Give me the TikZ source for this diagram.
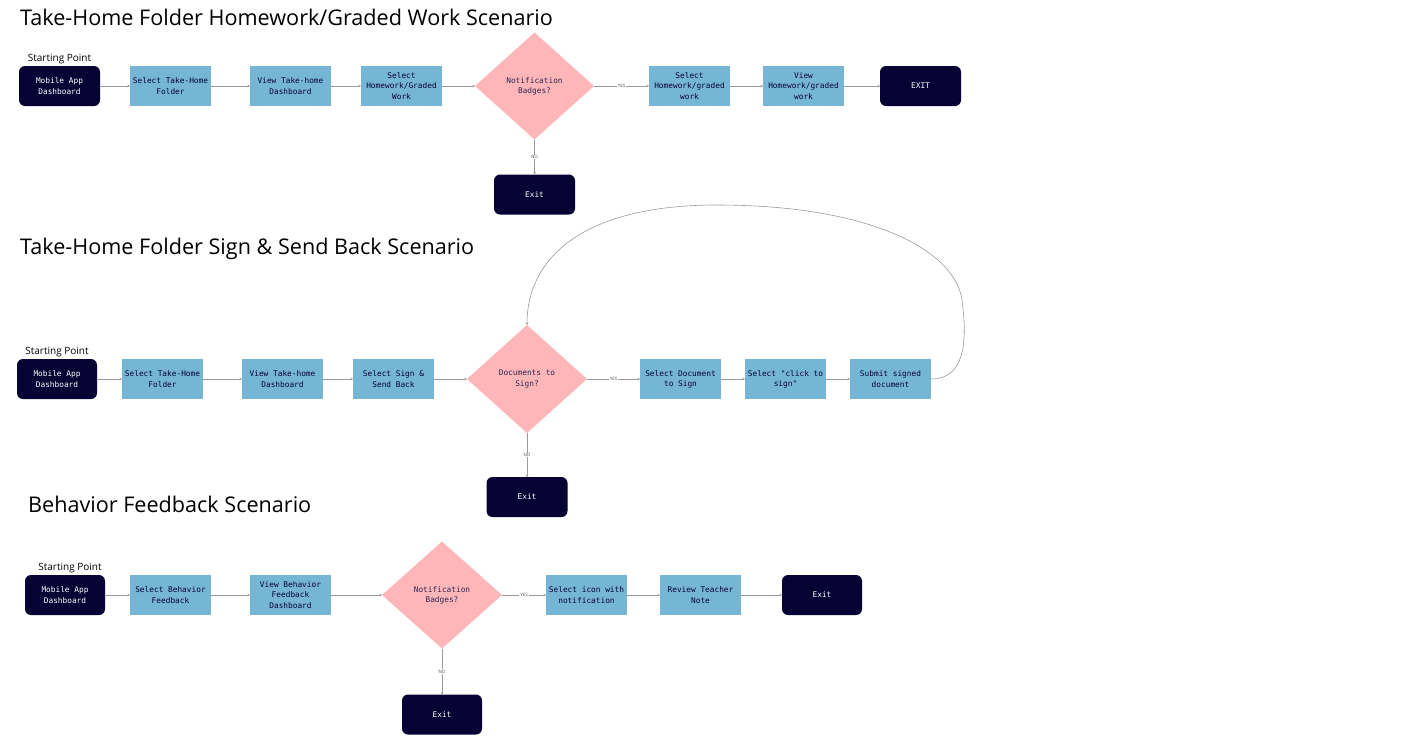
\documentclass[tikz,border=0pt]{standalone}
\usepackage{fontspec}
\setmainfont{Open Sans}
\newfontfamily\boxfont{DejaVu Sans Mono}
\usepackage{tikz}
\usetikzlibrary{shapes.geometric, arrows.meta, positioning}

\definecolor{navy}{HTML}{060233}
\definecolor{stepblue}{HTML}{76B6D5}
\definecolor{badgepink}{HTML}{FFB6B8}
\definecolor{linegray}{HTML}{9A9A9A}

\begin{document}
\begin{tikzpicture}[
    x=1pt, y=-1pt,
    title/.style={anchor=west, font=\fontsize{21.6}{26}\selectfont, inner sep=0pt},
    startlbl/.style={font=\fontsize{10}{12}\selectfont, inner sep=0pt},
    darkbox/.style={rectangle, rounded corners=6pt, fill=navy, text=white, font=\boxfont\fontsize{7.8}{10.2}\selectfont, align=center, minimum width=81pt, minimum height=40pt, inner sep=1pt, outer sep=0pt},
    stepbox/.style={rectangle, fill=stepblue, text=navy, font=\boxfont\fontsize{7.8}{10.2}\selectfont, align=center, minimum width=81pt, minimum height=40pt, inner sep=1pt, outer sep=0pt},
    decision/.style={diamond, fill=badgepink, text=navy!85, font=\boxfont\fontsize{7.8}{10.2}\selectfont, align=center, minimum width=119pt, minimum height=107pt, inner sep=0pt, outer sep=0pt},
    arrow/.style={-{Stealth[length=2.5pt, width=2.5pt]}, draw=linegray, line width=0.8pt},
    choice/.style={fill=white, font=\fontsize{4.5}{5}\selectfont, text=black!70, inner sep=0.8pt}
]
\useasboundingbox (0,0) rectangle (1402,748);

% Homework / graded work scenario
\node [title] (titleA) at (20,17) {Take-Home Folder Homework/Graded Work Scenario};
\node [darkbox] (mobA) at (59.5,86) {Mobile App\\Dashboard};
\node [startlbl, above=2pt of mobA] (startA) {Starting Point};
\node [stepbox, right=30pt of mobA] (selA) {Select Take-Home\\Folder};
\node [stepbox, right=39pt of selA] (viewA) {View Take-home\\Dashboard};
\node [stepbox, right=30pt of viewA] (hwA) {Select\\Homework/Graded\\Work};
\node [decision, right=33pt of hwA] (badgeA) {Notification\\Badges?};
\node [stepbox, right=55pt of badgeA] (pickA) {Select\\Homework/graded\\work};
\node [stepbox, right=33pt of pickA] (viewhwA) {View\\Homework/graded\\work};
\node [darkbox, right=36pt of viewhwA] (exitA) {EXIT};
\node [darkbox, below=35pt of badgeA] (noexitA) {Exit};

\draw [arrow] (mobA) -- (selA);
\draw [arrow] (selA) -- (viewA);
\draw [arrow] (viewA) -- (hwA);
\draw [arrow] (hwA) -- (badgeA);
\draw [arrow] (badgeA) -- node[choice] {YES} (pickA);
\draw [arrow] (pickA) -- (viewhwA);
\draw [arrow] (viewhwA) -- (exitA);
\draw [arrow] (badgeA) -- node[choice] {NO} (noexitA);

% Sign & send back scenario
\node [title] (titleB) at (20,249) {Take-Home Folder Sign \& Send Back Scenario};
\node [darkbox, minimum width=80pt] (mobB) at (57,379) {Mobile App\\Dashboard};
\node [startlbl, above=2pt of mobB] (startB) {Starting Point};
\node [stepbox, right=25pt of mobB] (selB) {Select Take-Home\\Folder};
\node [stepbox, right=39pt of selB] (viewB) {View Take-home\\Dashboard};
\node [stepbox, right=30pt of viewB] (signB) {Select Sign \&\\Send Back};
\node [decision, minimum width=120pt, minimum height=108pt, right=33pt of signB] (docsB) {Documents to\\Sign?};
\node [stepbox, right=53pt of docsB] (pickB) {Select Document\\to Sign};
\node [stepbox, right=24pt of pickB] (clickB) {Select "click to\\sign"};
\node [stepbox, right=24pt of clickB] (submitB) {Submit signed\\document};
\node [darkbox, below=44pt of docsB] (noexitB) {Exit};

\draw [arrow] (mobB) -- (selB);
\draw [arrow] (selB) -- (viewB);
\draw [arrow] (viewB) -- (signB);
\draw [arrow] (signB) -- (docsB);
\draw [arrow] (docsB) -- node[choice] {YES} (pickB);
\draw [arrow] (pickB) -- (clickB);
\draw [arrow] (clickB) -- (submitB);
\draw [arrow] (docsB) -- node[choice] {NO} (noexitB);
\draw [arrow, line width=0.6pt] (submitB.east) .. controls (969,379) and (966,332) .. (962,300)
    .. controls (955,250) and (870,205) .. (717,205)
    .. controls (580,205) and (527,260) .. (docsB.north);

% Behavior feedback scenario
\node [title] (titleC) at (28,504) {Behavior Feedback Scenario};
\node [darkbox, minimum width=80pt] (mobC) at (65,595) {Mobile App\\Dashboard};
\node [startlbl, above=2pt of mobC, xshift=5pt] (startC) {Starting Point};
\node [stepbox, right=25pt of mobC] (selC) {Select Behavior\\Feedback};
\node [stepbox, right=39pt of selC] (viewC) {View Behavior\\Feedback\\Dashboard};
\node [decision, minimum width=120pt, right=51pt of viewC] (badgeC) {Notification\\Badges?};
\node [stepbox, right=44pt of badgeC] (iconC) {Select icon with\\notification};
\node [stepbox, right=33pt of iconC] (noteC) {Review Teacher\\Note};
\node [darkbox, minimum width=80pt, right=41pt of noteC] (exitC) {Exit};
\node [darkbox, minimum width=80pt, below=46pt of badgeC] (noexitC) {Exit};

\draw [arrow] (mobC) -- (selC);
\draw [arrow] (selC) -- (viewC);
\draw [arrow] (viewC) -- (badgeC);
\draw [arrow] (badgeC) -- node[choice] {YES} (iconC);
\draw [arrow] (iconC) -- (noteC);
\draw [arrow] (noteC) -- (exitC);
\draw [arrow] (badgeC) -- node[choice] {NO} (noexitC);

\end{tikzpicture}
\end{document}
